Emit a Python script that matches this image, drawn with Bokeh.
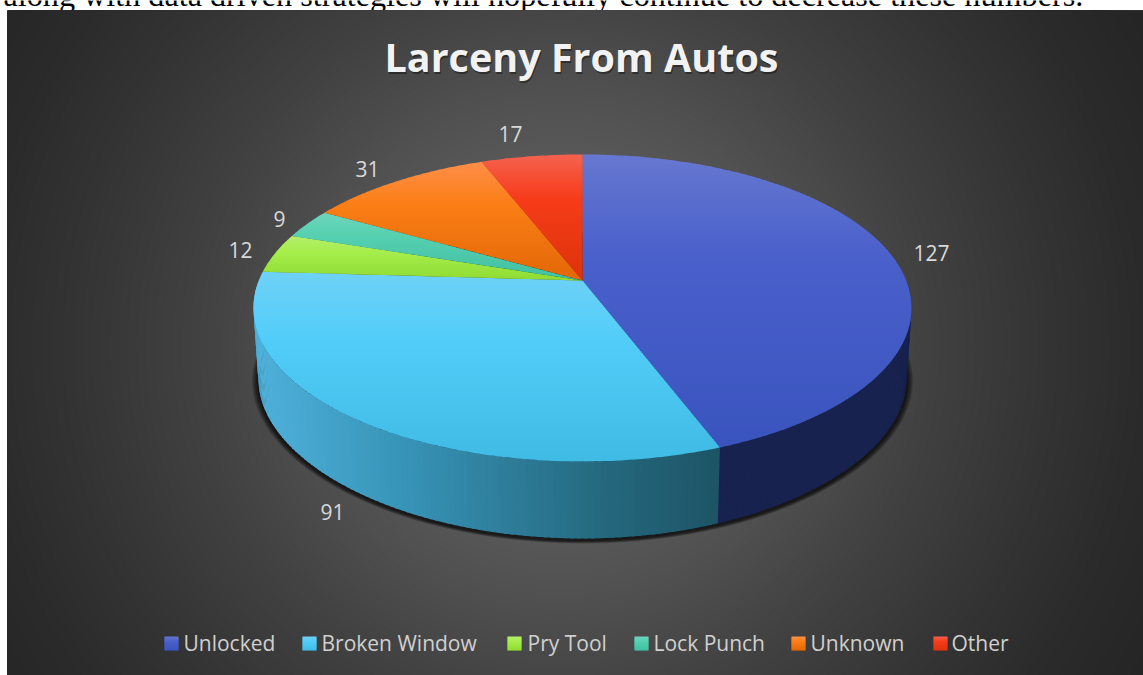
import math
from bokeh.plotting import figure
from bokeh.models import Range1d
from bokeh.core.properties import value
from bokeh.embed import file_html
from bokeh.resources import INLINE

TITLE = "Larceny From Autos"
SENTENCE = "along with data driven strategies will hopefully continue to decrease these numbers."
categories = ["Unlocked", "Broken Window", "Pry Tool", "Lock Punch", "Unknown", "Other"]
counts = [127, 91, 12, 9, 31, 17]
top_grad = [("#6678d0", "#4a60cb", "#3a54be"), ("#6fd1f6", "#52cdf9", "#3fbbe5"),
            ("#b5ee6e", "#a6ee4c", "#8fdb32"), ("#6ed5bb", "#55d0b0", "#40bfa2"),
            ("#ff8e4a", "#fb7f17", "#e26806"), ("#f5624f", "#f63c1a", "#dd330a")]
label_x = [931, 332, 240, 279, 367, 510]
label_y = [252, 511, 249, 218, 168, 133]
legend_swatch_x = [164, 302, 507, 634, 791, 933]
legend_text_x = [183, 321, 527, 653, 810, 951]
bg_distance = [0, 100, 258, 361, 487, 581, 720]
bg_level = [104, 100, 80, 66, 52, 43, 34]

W, H = 1143, 675
CX, APEX_Y = 582.0, 280.0
A, B, C = 148.6, 0.179, 323.7
SX, SY, B2, DROP_Y = 0.985, 0.98, 0.22, 351.3
PANEL_L, PANEL_T = 7.0, 10.0


def rgb(h):
    return tuple(int(h[i:i + 2], 16) for i in (1, 3, 5))


def mix(a, b, t):
    return tuple(a[i] + (b[i] - a[i]) * t for i in range(3))


def tohex(c):
    return "#%02x%02x%02x" % tuple(int(round(v)) for v in c)


def top_pt(deg, frac=1.0):
    u, v = math.sin(math.radians(deg)) * frac, math.cos(math.radians(deg)) * frac
    d = 1 + B * v
    return CX + C * u / d, APEX_Y - A * v / d


def bot_pt(deg):
    u, v = math.sin(math.radians(deg)), math.cos(math.radians(deg))
    return CX + SX * C * u / (1 + B * v), DROP_Y - SY * A * v / (1 + B2 * v)


def half(pts, axis, cross, keep_greater):
    def keep(p):
        return p[axis] >= cross if keep_greater else p[axis] <= cross
    out = []
    for i, p in enumerate(pts):
        q = pts[(i + 1) % len(pts)]
        if keep(p):
            out.append(p)
        if keep(p) != keep(q):
            t = (cross - p[axis]) / (q[axis] - p[axis])
            r = [p[0] + (q[0] - p[0]) * t, p[1] + (q[1] - p[1]) * t]
            r[axis] = cross
            out.append(tuple(r))
    return out


def clip(poly, y0, y1):
    pts = half(poly, 1, y0, True)
    return half(pts, 1, y1, False) if pts else []


def grad3(g, t):
    a, m, b = [rgb(h) for h in g]
    return mix(a, m, t / 0.35) if t < 0.35 else mix(m, b, (t - 0.35) / 0.65)


def bands(poly, g, step=2.0):
    ys = [p[1] for p in poly]
    lo, hi = min(ys), max(ys)
    xs_, ys_, cs_ = [], [], []
    y = lo
    while y < hi:
        part = clip(poly, y, min(y + step + 0.7, hi))
        if len(part) >= 3:
            xs_.append([p[0] for p in part])
            ys_.append([p[1] for p in part])
            cs_.append(tohex(grad3(g, (y + step / 2 - lo) / (hi - lo))))
        y += step
    return xs_, ys_, cs_


p = figure(width=W, height=H, output_backend="svg", toolbar_location=None,
           x_range=Range1d(0, W), y_range=Range1d(H, 0),
           min_border=0, outline_line_color=None, background_fill_color="white",
           border_fill_color="white")
p.axis.visible = False
p.grid.visible = False

# the clipped line of page text above the panel
p.text(x=[3], y=[-6], text=[SENTENCE], text_font=value("Liberation Serif"),
       text_font_size="32.2px", text_color="black", text_baseline="alphabetic", text_align="left")

# panel with radial background, each level one clipped circle
CXB, CYB = 560.0, 345.0
base = bg_level[-1]
p.quad(left=[PANEL_L], right=[W + 5], top=[PANEL_T], bottom=[H + 5],
       fill_color=tohex((base,) * 3), line_color=None)
for lev in range(base + 1, bg_level[0] + 1):
    d = 0.0
    for j in range(len(bg_level) - 1):
        if bg_level[j] >= lev >= bg_level[j + 1]:
            d = bg_distance[j] + (bg_distance[j + 1] - bg_distance[j]) * (bg_level[j] - lev) / (bg_level[j] - bg_level[j + 1])
            break
    circle = [(CXB + d * math.cos(math.radians(a)), CYB + d * math.sin(math.radians(a))) for a in range(0, 360, 2)]
    circle = half(half(circle, 1, PANEL_T, True), 0, PANEL_L, True)
    if len(circle) >= 3:
        p.patch([c[0] for c in circle], [c[1] for c in circle],
                fill_color=tohex((lev,) * 3), line_color=None)

# shadow under the pie
ring = [bot_pt(a) for a in range(0, 360, 2)]
my = bot_pt(90 + math.degrees(math.asin(B2)))[1]
for k in range(8, 0, -1):
    f = 1 + k * 0.0025
    xs = [CX + (x - CX) * f for x, y in ring]
    ys = [my + (y - my) * f + 2.0 for x, y in ring]
    p.patch(xs, ys, fill_color="black", fill_alpha=0.13, line_color=None)

# walls
total = sum(counts)
edges = [0.0]
for c in counts:
    edges.append(edges[-1] + 360.0 * c / total)
blue_wall = rgb("#18224f")
wall_stops = [(257, "#4fb0da"), (400, "#3794b8"), (600, "#25697f"), (716, "#1d5566")]


def wall_color(x):
    for (x0, c0), (x1, c1) in zip(wall_stops, wall_stops[1:]):
        if x <= x1:
            return tohex(mix(rgb(c0), rgb(c1), max(0.0, (x - x0) / (x1 - x0))))
    return wall_stops[-1][1]


wx, wy, wc = [], [], []
a = 90.0
while a < 270.0:
    b = min(a + 1.0, 270.0)
    if a < edges[1] <= b - 1e-9:
        b = edges[1]
    b2 = min(b + 0.4, 270.0) if b != edges[1] else b
    q = [top_pt(a), top_pt(b2), bot_pt(b2), bot_pt(a)]
    wx.append([k[0] for k in q])
    wy.append([k[1] for k in q])
    mid = (a + b) / 2
    wc.append(tohex(blue_wall) if mid < edges[1] else wall_color(top_pt(mid)[0]))
    a = b
p.patches(wx, wy, fill_color=wc, line_color=None)

# top surface
for i, cat in enumerate(categories):
    a0, a1 = edges[i], edges[i + 1]
    n = max(2, int((a1 - a0) / 0.75))
    poly = [top_pt(0, 0)] + [top_pt(a0 + (a1 - a0) * j / n) for j in range(n + 1)]
    xs_, ys_, cs_ = bands(poly, top_grad[i])
    p.patches(xs_, ys_, fill_color=cs_, line_color=None)

# labels
p.text(x=label_x, y=label_y, text=[str(c) for c in counts], text_font=value("Open Sans"),
       text_font_size="21px", text_color="#d9d9d9", text_align="center", text_baseline="middle")

# title with soft shadow
p.text(x=[582], y=[58], text=[TITLE], text_font=value("Open Sans"), text_font_style="bold",
       text_font_size="39.5px", text_color="black", text_alpha=0.4, text_align="center", text_baseline="middle")
p.text(x=[581], y=[56], text=[TITLE], text_font=value("Open Sans"), text_font_style="bold",
       text_font_size="39.5px", text_color="#f2f2f2", text_align="center", text_baseline="middle")

# legend
for i, cat in enumerate(categories):
    x0 = legend_swatch_x[i]
    sq = [(x0, 636), (x0 + 14, 636), (x0 + 14, 650), (x0, 650)]
    xs_, ys_, cs_ = bands(sq, top_grad[i], step=1.0)
    p.patches(xs_, ys_, fill_color=cs_, line_color=None)
p.text(x=legend_text_x, y=[642] * 6, text=categories, text_font=value("Open Sans"),
       text_font_size="21px", text_color="#d0d0d0", text_align="left", text_baseline="middle")

open("out.html", "w").write(file_html(p, INLINE))
